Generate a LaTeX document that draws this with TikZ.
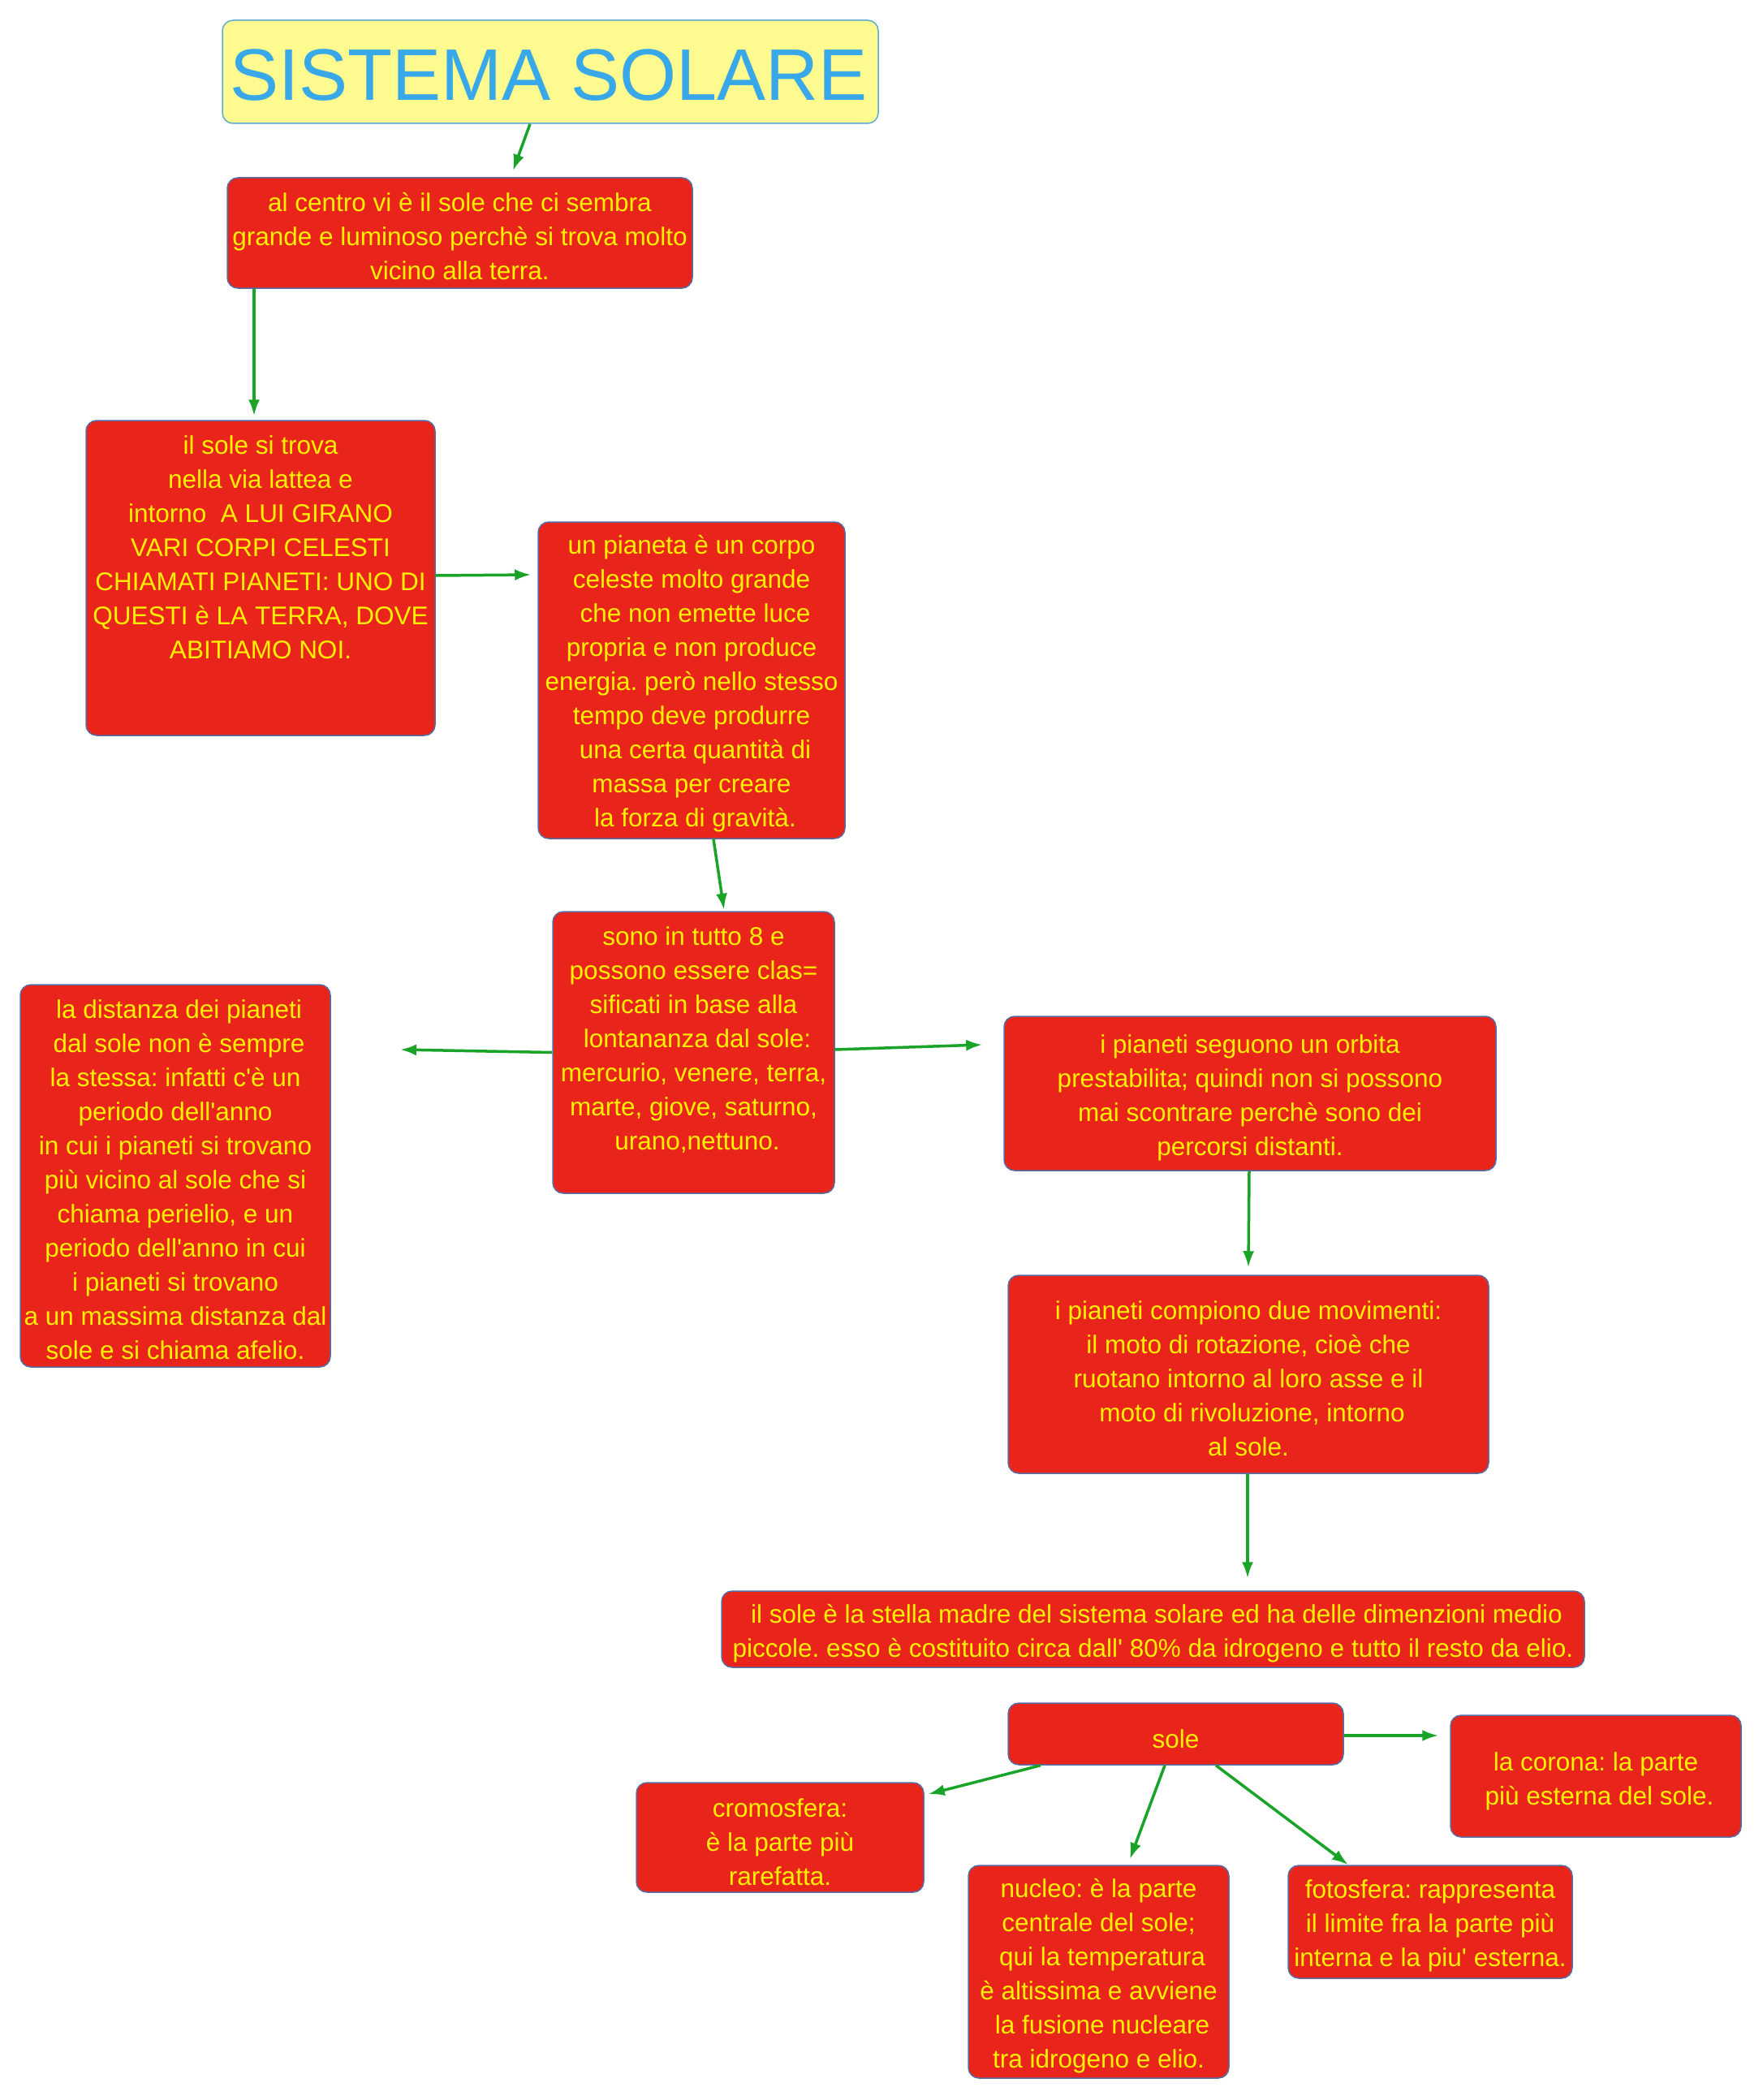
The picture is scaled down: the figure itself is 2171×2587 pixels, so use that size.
\documentclass[tikz,border=0pt]{standalone}
\usepackage{fontspec}
\setmainfont{Liberation Sans}
\usetikzlibrary{arrows.meta}
\definecolor{boxred}{RGB}{233,36,27}
\definecolor{txtyel}{RGB}{255,240,0}
\definecolor{boxline}{RGB}{85,110,165}
\definecolor{titlefill}{RGB}{253,251,143}
\definecolor{titleline}{RGB}{90,170,210}
\definecolor{titletext}{RGB}{56,168,232}
\definecolor{arrgreen}{RGB}{25,163,40}
\newcommand{\aq}{\textquotesingle}
\frenchspacing
\tikzset{
  redbox/.style={draw=boxline, line width=1.5pt, fill=boxred, rounded corners=13pt, inner sep=0pt},
  txt/.style={text=txtyel, font=\fontsize{31.5}{42}\selectfont, align=center, inner sep=0pt},
  arr/.style={draw=arrgreen, line width=3.5pt, -{Latex[length=20pt,width=14pt]}}
}
\begin{document}
\begin{tikzpicture}[x=1pt,y=-1pt]
\fill[white] (0,0) rectangle (2171,2587);
\useasboundingbox (0,0) rectangle (2171,2587);

% title
\node[draw=titleline, line width=1.5pt, fill=titlefill, rounded corners=13pt, minimum width=808pt, minimum height=127pt, inner sep=0pt] (T) at (678,88.5) {};
\node[text=titletext, font=\fontsize{90}{100}\selectfont, inner sep=0pt] (Tt) at (676,93) {SISTEMA SOLARE};

% boxes
\node[redbox, minimum width=573pt, minimum height=136pt] (A) at (566.5,287) {};
\node[txt] (At) at (566.5,291) {al centro vi è il sole che ci sembra\hspace{9pt}\\grande e luminoso perchè si trova molto\\vicino alla terra.};

\node[redbox, minimum width=430pt, minimum height=388pt] (B) at (321,712) {};
\node[txt] (Bt) at (321,674) {il sole si trova\\nella via lattea e\hspace{9pt}\\intorno\ \ A LUI GIRANO\\VARI CORPI CELESTI\\CHIAMATI PIANETI: UNO DI\\QUESTI è LA TERRA, DOVE\\ABITIAMO NOI.};

\node[redbox, minimum width=378pt, minimum height=390pt] (C) at (852,838) {};
\node[txt] (Ct) at (852,842) {un pianeta è un corpo\\celeste molto grande\\\hspace{9pt}che non emette luce\\propria e non produce\\energia. però nello stesso\\tempo deve produrre\\\hspace{9pt}una certa quantità di\\massa per creare\\\hspace{9pt}la forza di gravità.};

\node[redbox, minimum width=347pt, minimum height=347pt] (D) at (854.5,1296.5) {};
\node[txt] (Dt) at (854.5,1281) {sono in tutto 8 e\\possono essere clas=\\sificati in base alla\\\hspace{9pt}lontananza dal sole:\\mercurio, venere, terra,\\marte, giove, saturno,\\\hspace{9pt}urano,nettuno.};

\node[redbox, minimum width=382pt, minimum height=471pt] (E) at (216,1448.5) {};
\node[txt] (Et) at (216,1453) {\hspace{9pt}la distanza dei pianeti\\\hspace{9pt}dal sole non è sempre\\la stessa: infatti c\aq è un\\periodo dell\aq anno\\in cui i pianeti si trovano\\più vicino al sole che si\\chiama perielio, e un\\periodo dell\aq anno in cui\\i pianeti si trovano\\a un massima distanza dal\\sole e si chiama afelio.};

\node[redbox, minimum width=606pt, minimum height=190pt] (F) at (1540,1347) {};
\node[txt] (Ft) at (1540,1352) {i pianeti seguono un orbita\\prestabilita; quindi non si possono\\mai scontrare perchè sono dei\\percorsi distanti.};

\node[redbox, minimum width=592pt, minimum height=244pt] (G) at (1538,1693) {};
\node[txt] (Gt) at (1538,1698) {i pianeti compiono due movimenti:\\il moto di rotazione, cioè che\\ruotano intorno al loro asse e il\\\hspace{9pt}moto di rivoluzione, intorno\\al sole.};

\node[redbox, minimum width=1063pt, minimum height=94pt] (H) at (1420.5,2007) {};
\node[txt] (Ht) at (1420.5,2012) {\hspace{9pt}il sole è la stella madre del sistema solare ed ha delle dimenzioni medio\\piccole. esso è costituito circa dall\aq\ 80\% da idrogeno e tutto il resto da elio.};

\node[redbox, minimum width=413pt, minimum height=76pt] (S) at (1448.5,2136) {};
\node[txt] (St) at (1448.5,2142) {sole};

\node[redbox, minimum width=358pt, minimum height=150pt] (Co) at (1966,2188) {};
\node[txt] (Cot) at (1966,2194) {la corona: la parte\\\hspace{9pt}più esterna del sole.};

\node[redbox, minimum width=354pt, minimum height=135pt] (Cr) at (961,2263.5) {};
\node[txt] (Crt) at (961,2269) {cromosfera:\\è la parte più\\rarefatta.};

\node[redbox, minimum width=321pt, minimum height=262pt] (N) at (1353.5,2429) {};
\node[txt] (Nt) at (1353.5,2434) {nucleo: è la parte\\centrale del sole;\\\hspace{9pt}qui la temperatura\\è altissima e avviene\\\hspace{9pt}la fusione nucleare\\tra idrogeno e elio.};

\node[redbox, minimum width=350pt, minimum height=139pt] (Fo) at (1762,2367.5) {};
\node[txt] (Fot) at (1762,2372) {fotosfera: rappresenta\\il limite fra la parte più\\interna e la piu\aq\ esterna.};

% free end
\coordinate (Dleft) at (493,1293);

% connectors
\draw[arr] ([xshift=-25pt]T.south) -- ([xshift=65.5pt,yshift=8pt]A.north);
\draw[arr] ([xshift=-253.5pt]A.south) -- ([xshift=-8pt,yshift=5pt]B.north);
\draw[arr] ([yshift=3pt]B.east) -- ([xshift=-8pt,yshift=130pt]C.west);
\draw[arr] ([xshift=27pt]C.south) -- ([xshift=37.5pt,yshift=1.5pt]D.north);
\draw[arr] (D.west) -- (Dleft);
\draw[arr] ([yshift=3.5pt]D.east) -- ([xshift=-26pt,yshift=60pt]F.west);
\draw[arr] ([xshift=-1pt]F.south) -- ([yshift=9pt]G.north);
\draw[arr] ([xshift=-1pt]G.south) -- ([xshift=116.5pt,yshift=15pt]H.north);
\draw[arr] ([yshift=-2pt]S.east) -- ([xshift=-14pt,yshift=50pt]Co.west);
\draw[arr] ([xshift=-166.5pt]S.south) -- ([xshift=5pt,yshift=-15pt]Cr.north east);
\draw[arr] ([xshift=-13.5pt]S.south) -- ([xshift=38.5pt,yshift=7pt]N.north);
\draw[arr] ([xshift=49.5pt]S.south) -- ([xshift=-101pt]Fo.north);
\end{tikzpicture}
\end{document}
